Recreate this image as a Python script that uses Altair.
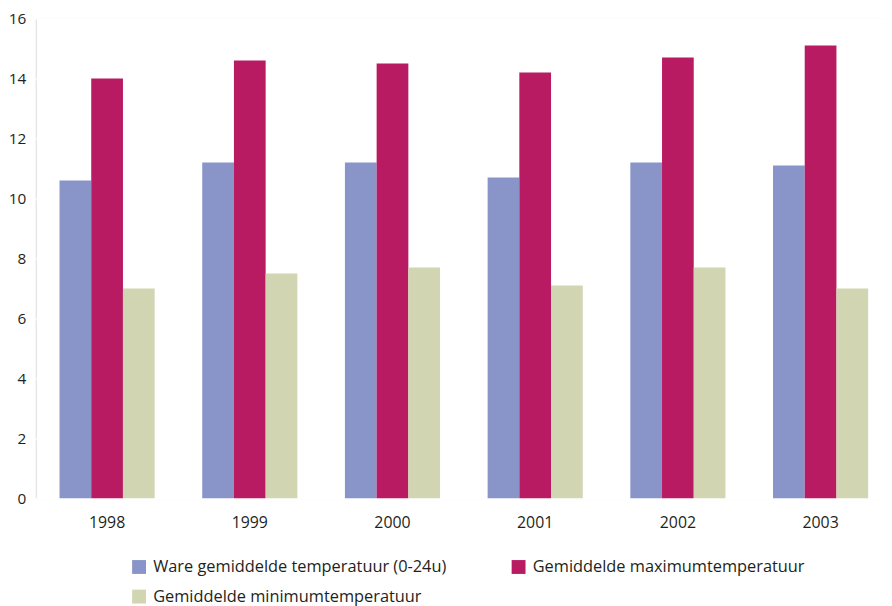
import altair as alt
import pandas as pd

years = ["1998", "1999", "2000", "2001", "2002", "2003"]
series = [
    "Ware gemiddelde temperatuur (0-24u)",
    "Gemiddelde maximumtemperatuur",
    "Gemiddelde minimumtemperatuur",
]
ware = [10.6, 11.2, 11.2, 10.7, 11.2, 11.1]
maxi = [14.0, 14.6, 14.5, 14.2, 14.7, 15.1]
mini = [7.0, 7.5, 7.7, 7.1, 7.7, 7.0]
colors = ["#8995c9", "#b81b62", "#d2d5b2"]

rows = []
for vals, s in zip([ware, maxi, mini], series):
    for y, v in zip(years, vals):
        rows.append({"jaar": y, "reeks": s, "waarde": v})
df = pd.DataFrame(rows)

FONT = "Open Sans"
TXT = "#231f20"

chart = (
    alt.Chart(df)
    .mark_bar()
    .encode(
        x=alt.X(
            "jaar:N",
            sort=years,
            scale=alt.Scale(paddingInner=1 / 3, paddingOuter=1 / 6),
            axis=alt.Axis(
                title=None, labelAngle=0, ticks=False, domain=False, grid=False,
                labelFontSize=16, labelColor=TXT, labelFont=FONT, labelPadding=17,
            ),
        ),
        xOffset=alt.XOffset("reeks:N", sort=series, scale=alt.Scale(paddingInner=0, paddingOuter=0)),
        y=alt.Y(
            "waarde:Q",
            scale=alt.Scale(domain=[0, 16], nice=False),
            axis=alt.Axis(
                title=None, values=list(range(0, 17, 2)), ticks=False, domain=False,
                gridColor="white", gridWidth=2, gridOpacity=1,
                labelFontSize=15.5, labelColor=TXT, labelFont=FONT, labelPadding=10,
            ),
        ),
        color=alt.Color(
            "reeks:N",
            sort=series,
            scale=alt.Scale(domain=series, range=colors),
            legend=alt.Legend(
                title=None, orient="none", legendX=96, legendY=545, columns=2,
                direction="horizontal", padding=0,
                symbolType="square", symbolSize=196, symbolStrokeWidth=0,
                labelFontSize=16.5, labelColor=TXT, labelFont=FONT, labelLimit=0,
                columnPadding=64, rowPadding=13, symbolOffset=0, labelOffset=6,
            ),
        ),
    )
    .properties(
        width=864,
        height=484,
        autosize=alt.AutoSizeParams(type="none"),
        padding={"left": 28, "top": 8, "right": -8, "bottom": 106},
    )
    .configure_view(fill="#e1e8f0", stroke=None)
    .configure(background="white")
)

chart.save("out.html", embed_options={"renderer": "svg", "actions": False})
